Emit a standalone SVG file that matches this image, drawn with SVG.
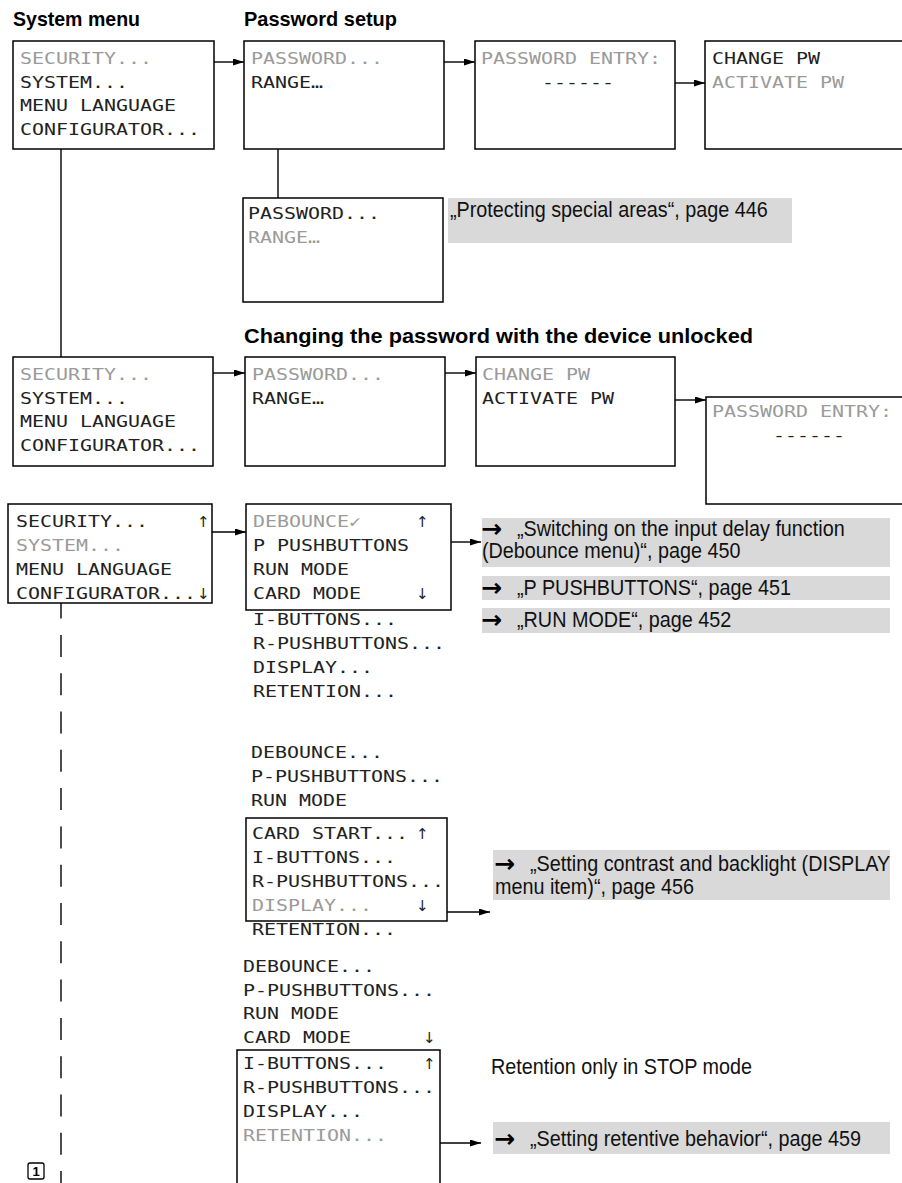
<svg xmlns="http://www.w3.org/2000/svg" width="902" height="1183" viewBox="0 0 902 1183">
<defs>
<style>
.lcd{font-family:"DejaVu Sans Mono","Liberation Mono",monospace;font-size:16px;fill:#222}
.dim{fill:#9a9a9a}
.ar{font-family:"DejaVu Sans",sans-serif;font-size:15px;fill:#222}
.box{fill:#fff;stroke:#000;stroke-width:1.5}
.title{font-family:"Liberation Sans Narrow","Liberation Sans",sans-serif;font-weight:bold;font-size:21px;fill:#000}
.ref{font-family:"Liberation Sans Narrow","Liberation Sans",sans-serif;font-size:22px;fill:#111}
.arr{font-family:"DejaVu Sans","Liberation Sans",sans-serif;font-size:25px;font-weight:bold;fill:#000}
.gray{fill:#d9d9d9}
.conn{stroke:#000;stroke-width:1.4;fill:none}
</style>
<marker id="ah" markerWidth="11" markerHeight="7" refX="11" refY="3.5" orient="auto" markerUnits="userSpaceOnUse"><path d="M0,0 L11,3.5 L0,7 z" fill="#000"/></marker>
</defs>
<rect width="902" height="1183" fill="#fff"/>

<g id="titles">
<text class="title" x="13" y="26" textLength="127" lengthAdjust="spacingAndGlyphs">System menu</text>
<text class="title" x="244" y="26" textLength="153" lengthAdjust="spacingAndGlyphs">Password setup</text>
<text class="title" x="244" y="343" textLength="509" lengthAdjust="spacingAndGlyphs">Changing the password with the device unlocked</text>
</g>

<g id="connectors">
<line class="conn" x1="214" y1="62" x2="244" y2="62" marker-end="url(#ah)"/>
<line class="conn" x1="444" y1="62" x2="475" y2="62" marker-end="url(#ah)"/>
<line class="conn" x1="675" y1="83" x2="705" y2="83" marker-end="url(#ah)"/>
<line class="conn" x1="278" y1="149" x2="278" y2="198"/>
<line class="conn" x1="61" y1="149" x2="61" y2="357"/>
<line class="conn" x1="213" y1="373" x2="245" y2="373" marker-end="url(#ah)"/>
<line class="conn" x1="445" y1="373" x2="476" y2="373" marker-end="url(#ah)"/>
<line class="conn" x1="675" y1="400" x2="706" y2="400" marker-end="url(#ah)"/>
<line class="conn" x1="212" y1="532" x2="246" y2="532" marker-end="url(#ah)"/>
<line class="conn" x1="451" y1="542" x2="481" y2="542" marker-end="url(#ah)"/>
<line class="conn" x1="61" y1="603" x2="61" y2="1183" stroke-dasharray="22 16.3" stroke-dashoffset="6.4"/>
<line class="conn" x1="447" y1="912" x2="490" y2="912" marker-end="url(#ah)"/>
<line class="conn" x1="440" y1="1143" x2="481" y2="1143" marker-end="url(#ah)"/>
</g>

<g id="n-sys1">
<rect class="box" x="13" y="41" width="201" height="108"/>
<text class="lcd dim" x="20" y="64" textLength="132" lengthAdjust="spacingAndGlyphs">SECURITY...</text>
<text class="lcd" x="20" y="88" textLength="108" lengthAdjust="spacingAndGlyphs">SYSTEM...</text>
<text class="lcd" x="20" y="111" textLength="156" lengthAdjust="spacingAndGlyphs">MENU LANGUAGE</text>
<text class="lcd" x="20" y="135" textLength="180" lengthAdjust="spacingAndGlyphs">CONFIGURATOR...</text>
</g>

<g id="n-pw1">
<rect class="box" x="244" y="41" width="200" height="108"/>
<text class="lcd dim" x="251" y="64" textLength="132" lengthAdjust="spacingAndGlyphs">PASSWORD...</text>
<text class="lcd" x="251" y="88" textLength="72" lengthAdjust="spacingAndGlyphs">RANGE…</text>
</g>

<g id="n-entry1">
<rect class="box" x="475" y="41" width="200" height="108"/>
<text class="lcd dim" x="481" y="64" textLength="180" lengthAdjust="spacingAndGlyphs">PASSWORD ENTRY:</text>
<text class="lcd" x="542" y="88" textLength="72" lengthAdjust="spacingAndGlyphs">------</text>
</g>

<g id="n-pwmenu1">
<rect class="box" x="705" y="41" width="210" height="108"/>
<text class="lcd" x="712" y="64" textLength="108" lengthAdjust="spacingAndGlyphs">CHANGE PW</text>
<text class="lcd dim" x="712" y="88" textLength="132" lengthAdjust="spacingAndGlyphs">ACTIVATE PW</text>
</g>

<g id="n-pw2">
<rect class="box" x="243" y="198" width="200" height="104"/>
<text class="lcd" x="248" y="219" textLength="132" lengthAdjust="spacingAndGlyphs">PASSWORD...</text>
<text class="lcd dim" x="248" y="243" textLength="72" lengthAdjust="spacingAndGlyphs">RANGE…</text>
</g>

<g id="n-ref-protect">
<rect class="gray" x="448" y="198" width="344" height="45"/>
<text class="ref" transform="matrix(0.9 0 0 1 450 217)">„Protecting special areas“, page 446</text>
</g>

<g id="n-sys2">
<rect class="box" x="13" y="357" width="200" height="109"/>
<text class="lcd dim" x="20" y="380" textLength="132" lengthAdjust="spacingAndGlyphs">SECURITY...</text>
<text class="lcd" x="20" y="404" textLength="108" lengthAdjust="spacingAndGlyphs">SYSTEM...</text>
<text class="lcd" x="20" y="427" textLength="156" lengthAdjust="spacingAndGlyphs">MENU LANGUAGE</text>
<text class="lcd" x="20" y="451" textLength="180" lengthAdjust="spacingAndGlyphs">CONFIGURATOR...</text>
</g>

<g id="n-pw3">
<rect class="box" x="245" y="357" width="200" height="109"/>
<text class="lcd dim" x="252" y="380" textLength="132" lengthAdjust="spacingAndGlyphs">PASSWORD...</text>
<text class="lcd" x="252" y="404" textLength="72" lengthAdjust="spacingAndGlyphs">RANGE…</text>
</g>

<g id="n-pwmenu2">
<rect class="box" x="476" y="357" width="199" height="109"/>
<text class="lcd dim" x="482" y="380" textLength="108" lengthAdjust="spacingAndGlyphs">CHANGE PW</text>
<text class="lcd" x="482" y="404" textLength="132" lengthAdjust="spacingAndGlyphs">ACTIVATE PW</text>
</g>

<g id="n-entry2">
<rect class="box" x="706" y="397" width="210" height="107"/>
<text class="lcd dim" x="712" y="417" textLength="180" lengthAdjust="spacingAndGlyphs">PASSWORD ENTRY:</text>
<text class="lcd" x="773" y="441" textLength="72" lengthAdjust="spacingAndGlyphs">------</text>
</g>

<g id="n-sys3">
<rect class="box" x="8" y="504" width="204" height="99"/>
<text class="lcd" x="16" y="527" textLength="132" lengthAdjust="spacingAndGlyphs">SECURITY...</text>
<text class="ar" x="197" y="527">↑</text>
<text class="lcd dim" x="16" y="551" textLength="108" lengthAdjust="spacingAndGlyphs">SYSTEM...</text>
<text class="lcd" x="16" y="575" textLength="156" lengthAdjust="spacingAndGlyphs">MENU LANGUAGE</text>
<text class="lcd" x="16" y="599" textLength="180" lengthAdjust="spacingAndGlyphs">CONFIGURATOR...</text>
<text class="ar" x="197" y="599">↓</text>
</g>

<g id="n-sys-settings1">
<rect class="box" x="246" y="504" width="205" height="106"/>
<text class="lcd dim" x="253" y="527" textLength="108" lengthAdjust="spacingAndGlyphs">DEBOUNCE✓</text>
<text class="ar dim" x="416" y="527">↑</text>
<text class="lcd" x="253" y="551" textLength="156" lengthAdjust="spacingAndGlyphs">P PUSHBUTTONS</text>
<text class="lcd" x="253" y="575" textLength="96" lengthAdjust="spacingAndGlyphs">RUN MODE</text>
<text class="lcd" x="253" y="599" textLength="108" lengthAdjust="spacingAndGlyphs">CARD MODE</text>
<text class="ar" x="416" y="599">↓</text>
<text class="lcd" x="253" y="625" textLength="144" lengthAdjust="spacingAndGlyphs">I-BUTTONS...</text>
<text class="lcd" x="253" y="649" textLength="192" lengthAdjust="spacingAndGlyphs">R-PUSHBUTTONS...</text>
<text class="lcd" x="253" y="673" textLength="120" lengthAdjust="spacingAndGlyphs">DISPLAY...</text>
<text class="lcd" x="253" y="697" textLength="144" lengthAdjust="spacingAndGlyphs">RETENTION...</text>
</g>

<g id="n-ref-debounce">
<rect class="gray" x="482" y="518" width="408" height="49"/>
<text class="arr" x="481" y="537">→</text>
<text class="ref" transform="matrix(0.9 0 0 1 517 536)">„Switching on the input delay function</text>
<text class="ref" transform="matrix(0.9 0 0 1 482 558)">(Debounce menu)“, page 450</text>
</g>

<g id="n-ref-pbuttons">
<rect class="gray" x="482" y="576" width="408" height="24"/>
<text class="arr" x="481" y="596">→</text>
<text class="ref" transform="matrix(0.9 0 0 1 517 595)">„P PUSHBUTTONS“, page 451</text>
</g>

<g id="n-ref-runmode">
<rect class="gray" x="482" y="608" width="408" height="25"/>
<text class="arr" x="481" y="628">→</text>
<text class="ref" transform="matrix(0.9 0 0 1 517 627)">„RUN MODE“, page 452</text>
</g>

<g id="n-sys-settings2">
<text class="lcd" x="251" y="758" textLength="132" lengthAdjust="spacingAndGlyphs">DEBOUNCE...</text>
<text class="lcd" x="251" y="782" textLength="192" lengthAdjust="spacingAndGlyphs">P-PUSHBUTTONS...</text>
<text class="lcd" x="251" y="806" textLength="96" lengthAdjust="spacingAndGlyphs">RUN MODE</text>
<rect class="box" x="246" y="818" width="201" height="103"/>
<text class="lcd" x="252" y="839" textLength="156" lengthAdjust="spacingAndGlyphs">CARD START...</text>
<text class="ar dim" x="416" y="839">↑</text>
<text class="lcd" x="252" y="863" textLength="144" lengthAdjust="spacingAndGlyphs">I-BUTTONS...</text>
<text class="lcd" x="252" y="887" textLength="192" lengthAdjust="spacingAndGlyphs">R-PUSHBUTTONS...</text>
<text class="lcd dim" x="252" y="911" textLength="120" lengthAdjust="spacingAndGlyphs">DISPLAY...</text>
<text class="ar" x="416" y="911">↓</text>
<text class="lcd" x="252" y="935" textLength="144" lengthAdjust="spacingAndGlyphs">RETENTION...</text>
</g>

<g id="n-ref-display">
<rect class="gray" x="493" y="850" width="397" height="50"/>
<text class="arr" x="494" y="872">→</text>
<text class="ref" transform="matrix(0.9 0 0 1 530 871)">„Setting contrast and backlight (DISPLAY</text>
<text class="ref" transform="matrix(0.9 0 0 1 495 894)">menu item)“, page 456</text>
</g>

<g id="n-sys-settings3">
<text class="lcd" x="243" y="972" textLength="132" lengthAdjust="spacingAndGlyphs">DEBOUNCE...</text>
<text class="lcd" x="243" y="996" textLength="192" lengthAdjust="spacingAndGlyphs">P-PUSHBUTTONS...</text>
<text class="lcd" x="243" y="1019" textLength="96" lengthAdjust="spacingAndGlyphs">RUN MODE</text>
<text class="lcd" x="243" y="1043" textLength="108" lengthAdjust="spacingAndGlyphs">CARD MODE</text>
<text class="ar" x="423" y="1043">↓</text>
<path class="box" d="M237,1190 V1050 H440 V1190"/>
<text class="lcd" x="243" y="1069" textLength="144" lengthAdjust="spacingAndGlyphs">I-BUTTONS...</text>
<text class="ar" x="423" y="1069">↑</text>
<text class="lcd" x="243" y="1093" textLength="192" lengthAdjust="spacingAndGlyphs">R-PUSHBUTTONS...</text>
<text class="lcd" x="243" y="1117" textLength="120" lengthAdjust="spacingAndGlyphs">DISPLAY...</text>
<text class="lcd dim" x="243" y="1141" textLength="144" lengthAdjust="spacingAndGlyphs">RETENTION...</text>
</g>

<g id="n-note-retention">
<text class="ref" transform="matrix(0.9 0 0 1 491 1074)">Retention only in STOP mode</text>
</g>

<g id="n-ref-retentive">
<rect class="gray" x="493" y="1122" width="397" height="32"/>
<text class="arr" x="494" y="1147">→</text>
<text class="ref" transform="matrix(0.9 0 0 1 530 1146)">„Setting retentive behavior“, page 459</text>
</g>

<g id="n-marker1">
<rect x="28" y="1163" width="16" height="16" rx="2" fill="#fff" stroke="#000" stroke-width="1.3"/>
<text x="36" y="1176" text-anchor="middle" font-family="Liberation Sans, sans-serif" font-weight="bold" font-size="13">1</text>
</g>
</svg>
